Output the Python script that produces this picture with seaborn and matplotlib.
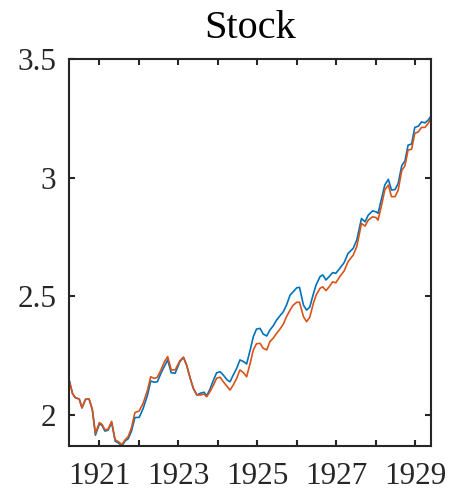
import matplotlib
matplotlib.use('Agg')
import matplotlib.pyplot as plt
import pandas as pd
import seaborn as sns

# Values (monthly-ish samples)
years = [1920.23, 1920.32, 1920.39, 1920.49, 1920.56, 1920.65, 1920.74, 1920.82, 1920.90,
         1921.00, 1921.07, 1921.14, 1921.22, 1921.31, 1921.40, 1921.48, 1921.57, 1921.65,
         1921.73, 1921.81, 1921.90, 1922.01, 1922.11, 1922.22, 1922.30, 1922.39, 1922.47,
         1922.56, 1922.65, 1922.73, 1922.82, 1922.92, 1923.04, 1923.13, 1923.21, 1923.30,
         1923.38, 1923.47, 1923.55, 1923.65, 1923.72, 1923.80, 1923.89, 1923.97, 1924.06,
         1924.14, 1924.24, 1924.31, 1924.39, 1924.48, 1924.56, 1924.65, 1924.73, 1924.82,
         1924.90, 1924.98, 1925.07, 1925.15, 1925.24, 1925.32, 1925.40, 1925.49, 1925.57,
         1925.66, 1925.74, 1925.83, 1925.91, 1926.00, 1926.07, 1926.17, 1926.25, 1926.33,
         1926.42, 1926.49, 1926.59, 1926.66, 1926.74, 1926.82, 1926.91, 1926.99, 1927.09,
         1927.20, 1927.30, 1927.43, 1927.52, 1927.64, 1927.73, 1927.81, 1927.92, 1928.01,
         1928.06, 1928.15, 1928.23, 1928.32, 1928.40, 1928.49, 1928.57, 1928.66, 1928.74,
         1928.82, 1928.91, 1928.99, 1929.08, 1929.16, 1929.25, 1929.33, 1929.40]

blue = [2.150, 2.090, 2.073, 2.067, 2.030, 2.066, 2.067, 2.024, 1.915,
        1.962, 1.956, 1.932, 1.936, 1.968, 1.890, 1.882, 1.870, 1.890,
        1.900, 1.930, 1.989, 1.990, 2.028, 2.084, 2.143, 2.138, 2.140,
        2.176, 2.206, 2.232, 2.178, 2.176, 2.225, 2.243, 2.210, 2.155,
        2.112, 2.084, 2.091, 2.096, 2.081, 2.108, 2.147, 2.178, 2.182,
        2.168, 2.147, 2.140, 2.168, 2.197, 2.232, 2.225, 2.215, 2.274,
        2.330, 2.362, 2.365, 2.341, 2.333, 2.358, 2.375, 2.400, 2.417,
        2.435, 2.463, 2.505, 2.519, 2.536, 2.538, 2.463, 2.442, 2.455,
        2.510, 2.548, 2.583, 2.590, 2.569, 2.583, 2.600, 2.597, 2.618,
        2.642, 2.681, 2.702, 2.737, 2.828, 2.814, 2.842, 2.860, 2.856,
        2.850, 2.913, 2.969, 2.993, 2.948, 2.950, 2.976, 3.051, 3.070,
        3.137, 3.142, 3.212, 3.217, 3.235, 3.231, 3.243, 3.260]

orange = [2.150, 2.090, 2.073, 2.067, 2.030, 2.066, 2.067, 2.024, 1.923,
          1.968, 1.960, 1.937, 1.940, 1.973, 1.895, 1.888, 1.875, 1.895,
          1.909, 1.944, 2.010, 2.017, 2.050, 2.105, 2.161, 2.154, 2.159,
          2.190, 2.225, 2.246, 2.190, 2.190, 2.229, 2.243, 2.210, 2.155,
          2.112, 2.084, 2.084, 2.088, 2.077, 2.098, 2.126, 2.155, 2.159,
          2.140, 2.119, 2.105, 2.126, 2.155, 2.190, 2.178, 2.161, 2.218,
          2.274, 2.300, 2.302, 2.281, 2.274, 2.309, 2.323, 2.344, 2.361,
          2.383, 2.414, 2.442, 2.463, 2.475, 2.475, 2.414, 2.393, 2.412,
          2.470, 2.505, 2.534, 2.540, 2.524, 2.540, 2.561, 2.557, 2.583,
          2.607, 2.646, 2.674, 2.709, 2.807, 2.796, 2.821, 2.835, 2.832,
          2.821, 2.885, 2.948, 2.969, 2.920, 2.920, 2.948, 3.030, 3.050,
          3.116, 3.120, 3.187, 3.193, 3.212, 3.212, 3.229, 3.250]

series_names = ['A', 'B']
tick_years = [1921, 1922, 1923, 1924, 1925, 1926, 1927, 1928, 1929]
tick_labels = ['1921', '', '1923', '', '1925', '', '1927', '', '1929']
y_ticks = [2, 2.5, 3, 3.5]
y_labels = ['2', '2.5', '3', '3.5']

df = pd.DataFrame({
    'year': years * 2,
    'value': blue + orange,
    'series': [series_names[0]] * len(years) + [series_names[1]] * len(years),
})

sns.set_style('white')
plt.rcParams['font.family'] = ['Liberation Serif', 'DejaVu Serif']

fig = plt.figure(figsize=(4.5, 4.92), dpi=100)
ax = fig.add_axes([0.1533, 0.0929, 0.8044, 0.7871])

sns.lineplot(data=df, x='year', y='value', hue='series',
             palette=['#0072BD', '#D95319'], linewidth=1.2, legend=False, ax=ax)

ax.set_xlim(years[0], years[-1])
ax.set_ylim(1.868, 3.5)
ax.set_xticks(tick_years)
ax.set_xticklabels(tick_labels)
ax.set_yticks(y_ticks)
ax.set_yticklabels(y_labels)
ax.set_xlabel('')
ax.set_ylabel('')
ax.set_title('Stock', fontsize=29, pad=15, color='black')

for s in ax.spines.values():
    s.set_visible(True)
    s.set_color('#262626')
    s.set_linewidth(1.5)
ax.tick_params(direction='in', length=4, width=1.5, color='#262626',
               labelsize=22.5, labelcolor='#262626', top=True, right=True,
               left=True, bottom=True)
ax.tick_params(axis='y', pad=9)
ax.tick_params(axis='x', pad=11)

fig.savefig('out.png', dpi=100)
